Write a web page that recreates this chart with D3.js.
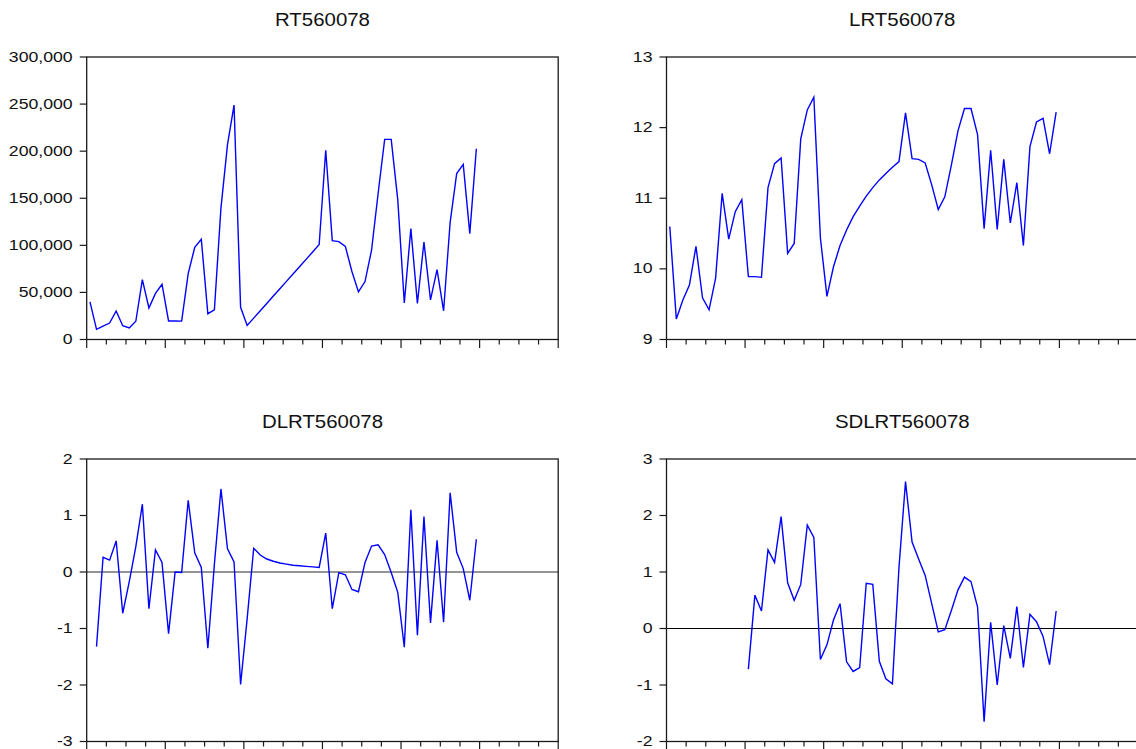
<!DOCTYPE html>
<html>
<head>
<meta charset="utf-8">
<script src="https://cdn.jsdelivr.net/npm/d3@7"></script>
<style>
  html, body { margin: 0; padding: 0; background: #fff; }
  svg { display: block; }
  text { font-family: "Liberation Sans", Arial, sans-serif; fill: #111; }
</style>
</head>
<body>
<svg id="chart" width="1136" height="749"></svg>
<script>
// ---- Data (monthly observations, 72-month axis, 60 observations) ----
const titles = ["RT560078", "LRT560078", "DLRT560078", "SDLRT560078"];

const rt = [40000, 10800, 14200, 17500, 30300, 14600, 12300, 19350, 63500, 33500, 49000, 58700,
            19700, 19700, 19500, 70000, 98000, 106500, 27400, 31600, 139500, 207000, 249000, 34200,
            14900, 22700, 30500, 38300, 46100, 53900, 61700, 69500, 77300, 85100, 92900, 100800,
            201000, 105000, 104000, 98800, 72200, 50500, 61500, 95000, 155000, 212500, 212500, 148500,
            38800, 117800, 38300, 103500, 42100, 74300, 30500, 124400, 176300, 186000, 112400, 202600];

const lrt = [10.60, 9.29, 9.56, 9.77, 10.32, 9.59, 9.42, 9.87, 11.07, 10.42, 10.81, 10.98,
             9.89, 9.89, 9.88, 11.15, 11.49, 11.57, 10.22, 10.36, 11.84, 12.25, 12.43, 10.44,
             9.61, 10.03, 10.33, 10.55, 10.74, 10.89, 11.03, 11.15, 11.26, 11.35, 11.44, 11.52,
             12.21, 11.56, 11.55, 11.50, 11.19, 10.84, 11.02, 11.47, 11.95, 12.27, 12.27, 11.90,
             10.57, 11.68, 10.56, 11.55, 10.65, 11.22, 10.33, 11.73, 12.08, 12.13, 11.63, 12.22];

// first difference: starts at observation 1
const dlrtStart = 1;
const dlrt = [-1.32, 0.26, 0.21, 0.55, -0.73, -0.17, 0.45, 1.20, -0.65, 0.39, 0.17,
              -1.09, 0.00, -0.01, 1.27, 0.34, 0.08, -1.35, 0.14, 1.47, 0.41, 0.18, -1.99,
              -0.83, 0.42, 0.30, 0.23, 0.19, 0.16, 0.14, 0.12, 0.11, 0.10, 0.09, 0.08,
              0.69, -0.65, -0.01, -0.05, -0.31, -0.35, 0.17, 0.46, 0.48, 0.31, -0.01, -0.36,
              -1.33, 1.10, -1.12, 0.98, -0.90, 0.56, -0.89, 1.40, 0.35, 0.06, -0.50, 0.58];

// seasonal difference: starts at observation 12
const sdlrtStart = 12;
const sdlrt = [-0.72, 0.59, 0.31, 1.39, 1.17, 1.98, 0.81, 0.50, 0.78, 1.83, 1.61, -0.55,
               -0.29, 0.15, 0.44, -0.59, -0.76, -0.69, 0.80, 0.78, -0.58, -0.89, -0.98, 1.08,
               2.60, 1.53, 1.23, 0.94, 0.44, -0.06, -0.02, 0.32, 0.68, 0.91, 0.83, 0.38,
               -1.65, 0.11, -1.00, 0.05, -0.53, 0.39, -0.69, 0.25, 0.12, -0.14, -0.64, 0.31];

const rtTicks = [0, 50000, 100000, 150000, 200000, 250000, 300000];
const lrtTicks = [9, 10, 11, 12, 13];
const dlrtTicks = [-3, -2, -1, 0, 1, 2];
const sdlrtTicks = [-2, -1, 0, 1, 2, 3];
const axisMonths = 72;   // months spanned by the time axis

// ---- Layout ----
const svg = d3.select("#chart");
const W = 471.5, H = 282.5;
const panels = [
  { title: titles[0], values: rt,    start: 0,          ticks: rtTicks,    domain: [0, 300000], fmt: d3.format(","), left: 86.7,  top: 57,  zero: null },
  { title: titles[1], values: lrt,   start: 0,          ticks: lrtTicks,   domain: [9, 13],     fmt: v => String(v), left: 666.5, top: 57,  zero: null },
  { title: titles[2], values: dlrt,  start: dlrtStart,  ticks: dlrtTicks,  domain: [-3, 2],     fmt: v => String(v), left: 86.7,  top: 459, zero: { color: "#707070", width: 1.6 } },
  { title: titles[3], values: sdlrt, start: sdlrtStart, ticks: sdlrtTicks, domain: [-2, 3],     fmt: v => String(v), left: 666.5, top: 459, zero: { color: "#000", width: 1.1 } }
];

panels.forEach(p => {
  const g = svg.append("g").attr("transform", `translate(${p.left},${p.top})`);
  const x = d3.scaleLinear().domain([0, axisMonths]).range([0, W]);
  const y = d3.scaleLinear().domain(p.domain).range([H, 0]);

  // zero line
  if (p.zero) {
    g.append("line")
      .attr("x1", 0).attr("x2", W)
      .attr("y1", y(0)).attr("y2", y(0))
      .attr("stroke", p.zero.color).attr("stroke-width", p.zero.width);
  }

  // series line
  const line = d3.line()
    .x((d, i) => x(p.start + i + 0.5))
    .y(d => y(d));
  g.append("path")
    .datum(p.values)
    .attr("d", line)
    .attr("fill", "none")
    .attr("stroke", "#0000ff")
    .attr("stroke-width", 1.4)
    .attr("stroke-linejoin", "miter");

  // frame
  g.append("rect")
    .attr("x", 0).attr("y", 0).attr("width", W).attr("height", H)
    .attr("fill", "none").attr("stroke", "#1a1a1a").attr("stroke-width", 1.3);

  // y ticks & labels
  p.ticks.forEach(t => {
    g.append("line")
      .attr("x1", -7).attr("x2", 0)
      .attr("y1", y(t)).attr("y2", y(t))
      .attr("stroke", "#1a1a1a").attr("stroke-width", 1.2);
    g.append("text")
      .attr("transform", `translate(-14,${y(t) + 4.6}) scale(1.14,1)`)
      .attr("text-anchor", "end")
      .attr("font-size", 15.5)
      .text(p.fmt(t));
  });

  // x ticks: quarterly minor, yearly major
  d3.range(0, axisMonths + 1, 3).forEach(m => {
    const major = m % 12 === 0;
    g.append("line")
      .attr("x1", x(m)).attr("x2", x(m))
      .attr("y1", H).attr("y2", H + (major ? 8.5 : 5))
      .attr("stroke", "#1a1a1a").attr("stroke-width", 1.2);
  });

  // title
  g.append("text")
    .attr("transform", `translate(${W / 2},${-31}) scale(1.075,1)`)
    .attr("text-anchor", "middle")
    .attr("font-size", 19)
    .text(p.title);
});
</script>
</body>
</html>
